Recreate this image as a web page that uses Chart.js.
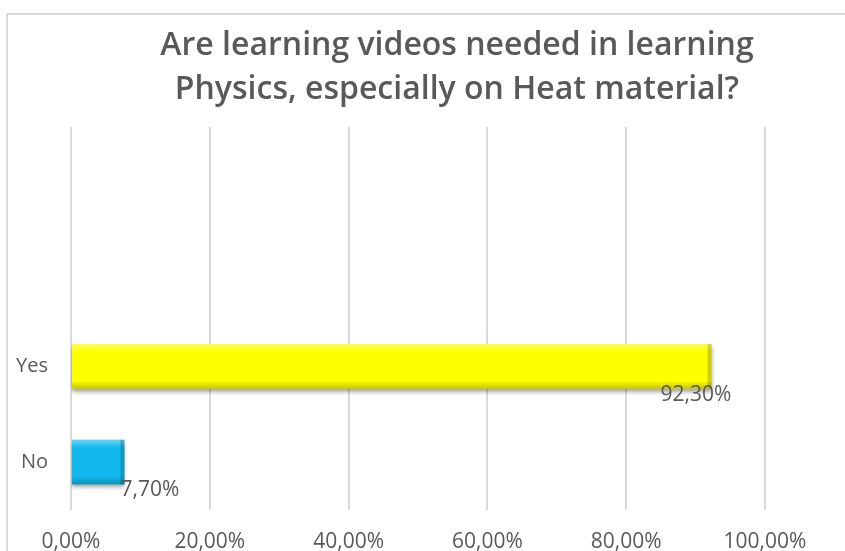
<!DOCTYPE html>
<html>
<head>
<meta charset="utf-8">
<script src="https://cdn.jsdelivr.net/npm/chart.js@4/dist/chart.umd.min.js"></script>
<style>
  html, body { margin: 0; padding: 0; background: #fff; }
  #wrap { position: relative; width: 845px; height: 551px; overflow: hidden; }
  #frame { position: absolute; left: 6px; top: 13px; width: 900px; height: 600px;
           border-left: 2px solid #d9d9d9; border-top: 2px solid #d9d9d9; }
  canvas { position: absolute; left: 0; top: 0; }
</style>
</head>
<body>
<div id="wrap"><div id="frame"></div><canvas id="c" width="845" height="551"></canvas></div>
<script>
// answers (two blank slots above, as in the source sheet)
const categories = ["", "", "Yes", "No"];
const shares = [null, null, 0.923, 0.077];
const barColors = ["#ffff00", "#ffff00", "#ffff00", "#12b9ef"];
const xTicks = [0, 0.2, 0.4, 0.6, 0.8, 1.0];
const titleLines = ["Are learning videos needed in learning", "Physics, especially on Heat material?"];

const GREY = "#595959";
const FONT = "'Open Sans', Lato, sans-serif";
const pct = v => (v * 100).toFixed(2).replace(".", ",") + "%";

// heading drawn centred over the whole frame, like the spreadsheet one
const heading = {
  id: "heading",
  afterDraw(chart, args, opts) {
    const c = chart.ctx;
    c.save();
    c.font = "600 " + opts.size + "px " + FONT;
    c.fillStyle = GREY;
    c.textAlign = "center";
    c.textBaseline = "middle";
    titleLines.forEach((t, i) => c.fillText(t, opts.x, opts.y + i * opts.gap));
    c.restore();
  },
};

// bevel + value labels drawn on top of the library's bar elements
const bevel = {
  id: "bevel",
  beforeDatasetsDraw(chart) {
    const c = chart.ctx;
    c.save();
    c.shadowColor = "rgba(0,0,0,0.35)";
    c.shadowOffsetY = 3; c.shadowBlur = 4;
  },
  afterDatasetsDraw(chart, args, opts) {
    const c = chart.ctx;
    c.restore();
    const meta = chart.getDatasetMeta(0);
    meta.data.forEach((bar, i) => {
      if (shares[i] == null) return;
      const { x, y, base, height } = bar.getProps(["x", "y", "base", "height"], true);
      const top = y - height / 2, bot = y + height / 2;
      const g = c.createLinearGradient(0, top, 0, bot);
      g.addColorStop(0, "rgba(255,255,255,0.35)");
      g.addColorStop(0.18, "rgba(255,255,255,0)");
      g.addColorStop(0.82, "rgba(0,0,0,0)");
      g.addColorStop(1, "rgba(0,0,0,0.22)");
      c.fillStyle = g;
      c.fillRect(base, top, x - base, height);
      c.fillStyle = "rgba(0,0,0,0.18)";
      c.fillRect(x - 4, top, 4, height);
      // value label
      c.font = opts.size + "px " + FONT;
      c.fillStyle = GREY;
      c.textAlign = "left";
      c.textBaseline = "middle";
      c.fillText(pct(shares[i]), x + opts.shift[i], bot + opts.drop);
    });
  },
};

new Chart(document.getElementById("c"), {
  type: "bar",
  data: {
    labels: categories,
    datasets: [{
      data: shares,
      backgroundColor: barColors,
      borderWidth: 0,
      barPercentage: 0.62,
      categoryPercentage: 0.75,
    }],
  },
  plugins: [bevel, heading],
  options: {
    indexAxis: "y",
    responsive: false,
    animation: false,
    layout: { padding: { left: 0, right: 80, top: 127, bottom: 0 } },
    plugins: {
      legend: { display: false },
      tooltip: { enabled: false },
      title: { display: false },
      heading: { x: 457, y: 46, gap: 44, size: 32 },
      bevel: { shift: [0, 0, -51, -4], drop: 6, size: 21 },
    },
    scales: {
      x: {
        min: 0, max: 1,
        afterBuildTicks: s => { s.ticks = xTicks.map(v => ({ value: v })); },
        afterFit: s => { s.height = 41; },
        grid: { color: "#d9d9d9", lineWidth: 2, drawTicks: false },
        border: { display: false },
        ticks: { color: GREY, font: { family: FONT, size: 21 }, padding: 19, callback: v => pct(v) },
      },
      y: {
        afterFit: s => { s.width = 71; },
        grid: { display: false },
        border: { display: false },
        ticks: { color: GREY, font: { family: FONT, size: 20 }, padding: 15 },
      },
    },
  },
});
</script>
</body>
</html>
